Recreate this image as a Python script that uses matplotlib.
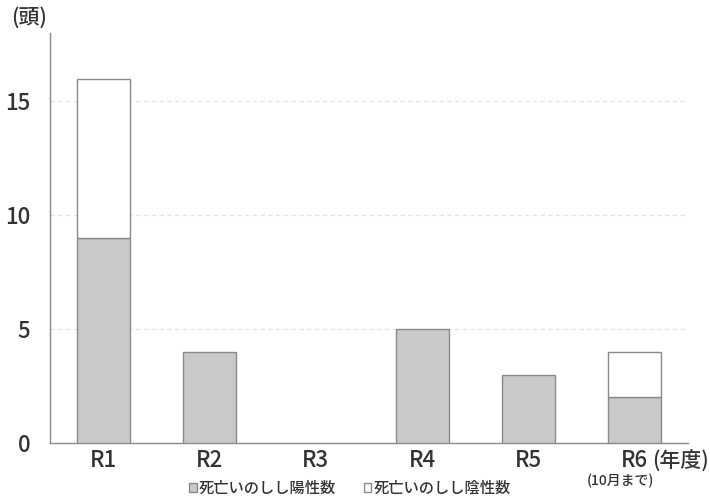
import matplotlib
matplotlib.use("Agg")
import matplotlib.pyplot as plt
from matplotlib.patches import Patch

plt.rcParams['font.family'] = ['Noto Sans CJK JP', 'DejaVu Sans']
plt.rcParams['font.weight'] = 'medium'

categories = ["R1", "R2", "R3", "R4", "R5", "R6"]
positive = [9, 4, 0, 5, 3, 2]
negative = [7, 0, 0, 0, 0, 2]
yticks = [0, 5, 10, 15]

pos_color = "#c9c9c9"
neg_color = "#ffffff"
edge = "#8a8a8a"
text_color = "#333333"

fig = plt.figure(figsize=(7.10, 5.01), dpi=100)
ax = fig.add_axes([0.0704, 0.1158, 0.8986, 0.8182])

x = list(range(len(categories)))
pos_lw = [1.0 if v > 0 else 0 for v in positive]
neg_lw = [1.0 if v > 0 else 0 for v in negative]
ax.bar(x, positive, width=0.5, color=pos_color, edgecolor=edge, linewidth=pos_lw, zorder=3)
ax.bar(x, negative, width=0.5, bottom=positive, color=neg_color, edgecolor=edge,
       linewidth=neg_lw, zorder=3)

ax.set_xlim(-0.5, len(categories) - 0.5)
ax.set_ylim(0, 18)
ax.set_yticks(yticks)
ax.set_xticks(x)
ax.set_xticklabels(categories)
ax.tick_params(axis='both', length=0, labelsize=16, colors=text_color)
ax.tick_params(axis='x', pad=4)
ax.tick_params(axis='y', pad=14)

for yv in yticks[1:]:
    ax.axhline(yv, color="#e3e3e3", linewidth=0.8, linestyle=(0, (4, 3)), zorder=1)

for side in ("top", "right"):
    ax.spines[side].set_visible(False)
for side in ("left", "bottom"):
    ax.spines[side].set_color("#8a8a8a")
    ax.spines[side].set_linewidth(1.0)

fig.text(0.016, 0.964, "(頭)", fontsize=15, color=text_color, ha="left", va="center")
fig.text(0.919, 0.079, "(年度)", fontsize=15, color=text_color, ha="left", va="center")
fig.text(0.874, 0.040, "(10月まで)", fontsize=10, color=text_color, ha="center", va="center")

handles = [Patch(facecolor=pos_color, edgecolor=edge, label="死亡いのしし陽性数"),
           Patch(facecolor=neg_color, edgecolor=edge, label="死亡いのしし陰性数")]
fig.legend(handles=handles, loc="center", bbox_to_anchor=(0.493, 0.025), ncol=2,
           frameon=False, fontsize=11, handlelength=0.5, handleheight=0.5,
           handletextpad=0.15, columnspacing=1.8, labelcolor=text_color,
           borderpad=0)

fig.savefig("out.png", dpi=100, facecolor="white")
